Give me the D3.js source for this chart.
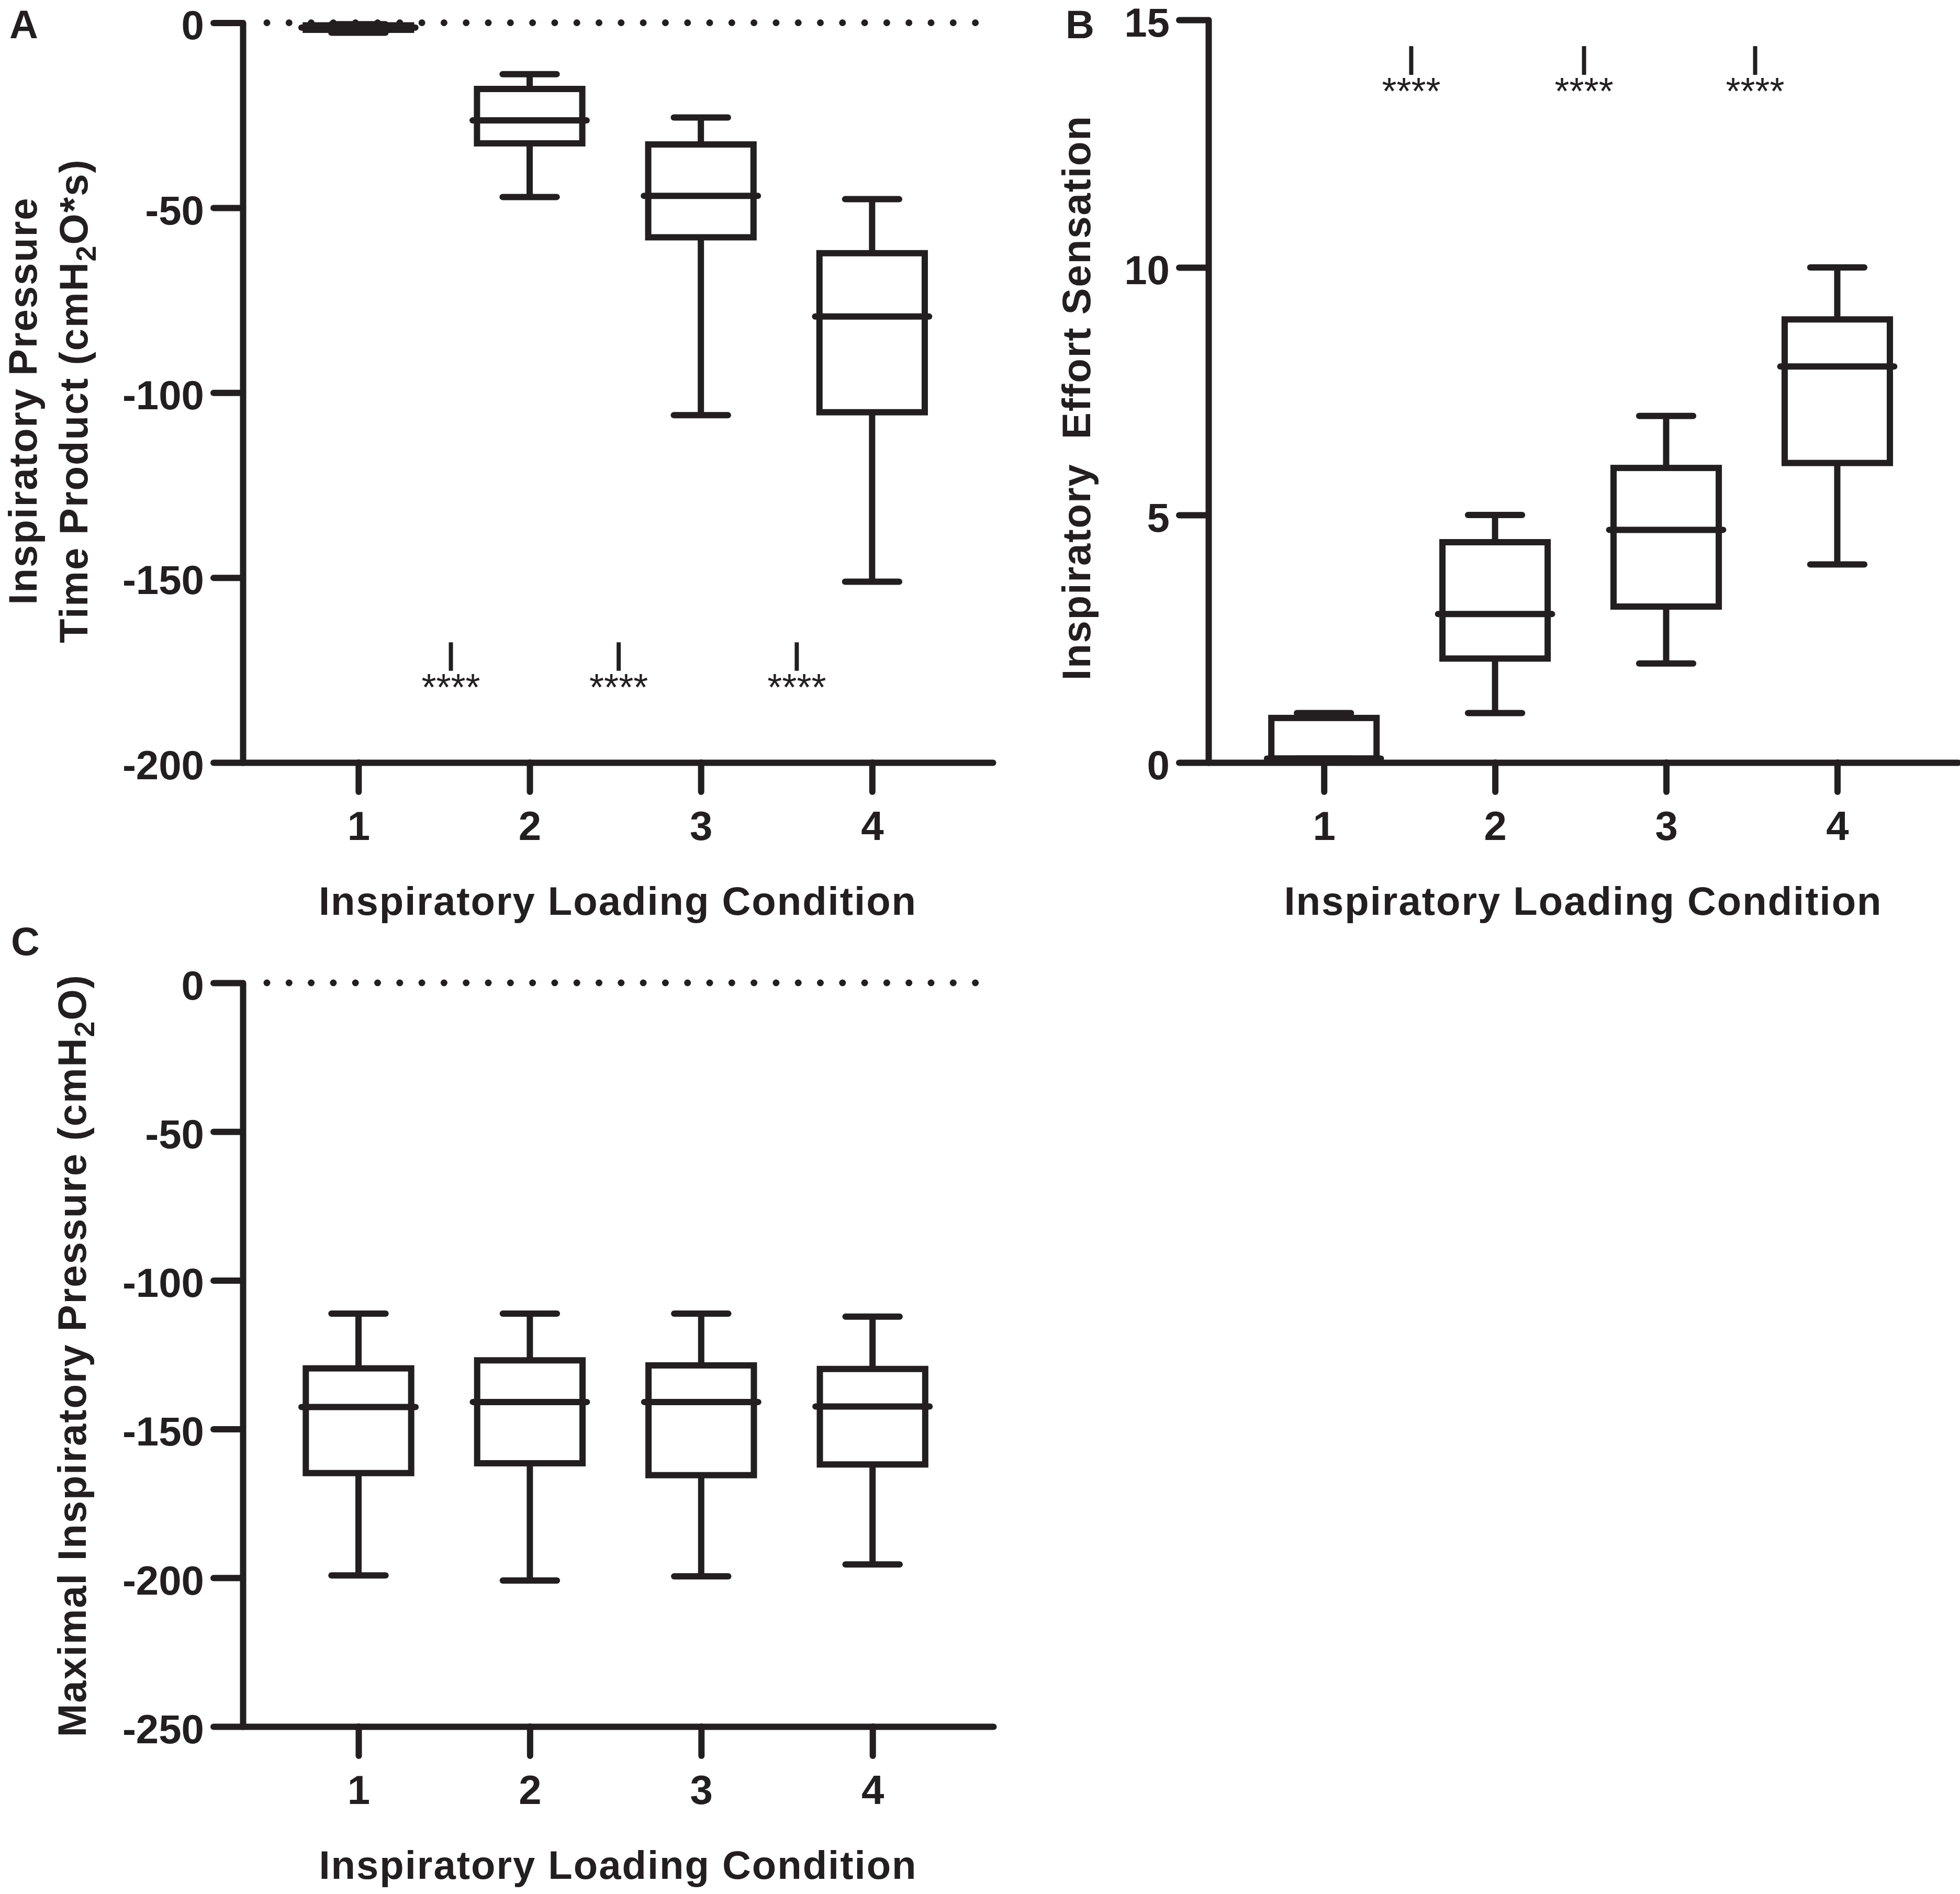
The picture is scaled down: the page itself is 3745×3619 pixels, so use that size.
<!DOCTYPE html>
<html>
<head>
<meta charset="utf-8">
<script src="https://cdn.jsdelivr.net/npm/d3@7"></script>
<style>
  html, body { margin: 0; padding: 0; background: #fff; }
  svg { display: block; font-family: "Liberation Sans", Arial, Helvetica, sans-serif; }
</style>
</head>
<body>
<div id="chart"></div>
<script>
const conditions = [1, 2, 3, 4];

// A: inspiratory pressure time product (cmH2O*s)
const ptpMin    = [-2.7, -47.1, -106.1, -151.1];
const ptpQ1     = [-1.9, -32.6, -58.0, -105.3];
const ptpMedian = [-1.3, -26.4, -46.8, -79.4];
const ptpQ3     = [-0.7, -17.9, -32.9, -62.3];
const ptpMax    = [-0.4, -13.9, -25.6, -47.7];
const ptpTicks  = [0, -50, -100, -150, -200];
const ptpSigX   = [1.54, 2.52, 3.56];
const ptpSigTop = -167.5;
const ptpSigBottom = -175.2;

// B: inspiratory effort sensation
const effortMin    = [0.08, 1.0, 2.0, 4.0];
const effortQ1     = [0.08, 2.1, 3.15, 6.05];
const effortMedian = [0.08, 3.0, 4.7, 8.0];
const effortQ3     = [0.9, 4.45, 5.95, 8.95];
const effortMax    = [1.0, 5.0, 7.0, 10.0];
const effortTicks  = [0, 5, 10, 15];
const effortSigX   = [1.51, 2.52, 3.52];
const effortSigTop = 14.47;
const effortSigBottom = 13.89;

// C: maximal inspiratory pressure (cmH2O)
const mipMin    = [-199.2, -200.9, -199.5, -195.5];
const mipQ1     = [-164.8, -161.5, -165.5, -161.9];
const mipMedian = [-142.6, -140.9, -140.9, -142.4];
const mipQ3     = [-129.6, -126.9, -128.6, -129.8];
const mipMax    = [-111.2, -111.2, -111.2, -112.2];
const mipTicks  = [0, -50, -100, -150, -200, -250];

const sigLabel = "****";
const xTitle = "Inspiratory Loading Condition";

const ink = "#231f20";
const W = 3745, H = 3619;
const xDomain = [0.325, 4.705];

const svg = d3.select("#chart")
  .append("svg")
  .attr("width", W)
  .attr("height", H)
  .attr("viewBox", `0 0 ${W} ${H}`);

const panels = [
  {
    label: "A", labelX: 18, labelY: 73,
    left: 464, right: 1897, top: 43.5, bottom: 1457,
    yDomain: [-200, 0], yTicks: ptpTicks,
    min: ptpMin, q1: ptpQ1, med: ptpMedian, q3: ptpQ3, max: ptpMax,
    sig: { x: ptpSigX, top: ptpSigTop, bottom: ptpSigBottom },
    zeroLine: true,
    titleY: 766,
    yTitle: [
      { x: 70, parts: [["Inspiratory Pressure"]] },
      { x: 167, parts: [["Time Product (cmH"], ["2", true], ["O*s)"]] }
    ]
  },
  {
    label: "B", labelX: 2036, labelY: 73,
    left: 2309, right: 3741, top: 38, bottom: 1457,
    yDomain: [0, 15], yTicks: effortTicks,
    min: effortMin, q1: effortQ1, med: effortMedian, q3: effortQ3, max: effortMax,
    sig: { x: effortSigX, top: effortSigTop, bottom: effortSigBottom },
    zeroLine: false,
    titleY: 760,
    yTitle: [
      { x: 2083, parts: [["Inspiratory  Effort Sensation"]] }
    ]
  },
  {
    label: "C", labelX: 21, labelY: 1825,
    left: 464, right: 1898, top: 1878, bottom: 3299,
    yDomain: [-250, 0], yTicks: mipTicks,
    min: mipMin, q1: mipQ1, med: mipMedian, q3: mipQ3, max: mipMax,
    sig: null,
    zeroLine: true,
    titleY: 2590,
    yTitle: [
      { x: 164, parts: [["Maximal Inspiratory Pressure (cmH"], ["2", true], ["O)"]] }
    ]
  }
];

panels.forEach(drawPanel);

function drawPanel(p) {
  const g = svg.append("g");
  const x = d3.scaleLinear().domain(xDomain).range([p.left, p.right]);
  const y = d3.scaleLinear().domain(p.yDomain).range([p.bottom, p.top]);

  const boxHalf = 0.3075, medHalf = 0.333, capHalf = 0.158;

  if (p.zeroLine) {
    g.append("line")
      .attr("x1", p.left + 46).attr("x2", p.right)
      .attr("y1", y(0)).attr("y2", y(0))
      .attr("stroke", ink).attr("stroke-width", 13)
      .attr("stroke-linecap", "round")
      .attr("stroke-dasharray", "0 42.3");
  }

  // axes (plain hyphen for negatives, as in the original)
  const plain = d => String(d);
  const yAxis = g.append("g")
    .attr("transform", `translate(${p.left},0)`)
    .call(d3.axisLeft(y).tickValues(p.yTicks).tickSize(56).tickSizeOuter(0).tickPadding(18).tickFormat(plain));
  const xAxis = g.append("g")
    .attr("transform", `translate(0,${p.bottom})`)
    .call(d3.axisBottom(x).tickValues(conditions).tickSize(56).tickSizeOuter(0).tickPadding(37).tickFormat(plain));

  [yAxis, xAxis].forEach(a => {
    a.selectAll("path, line")
      .attr("stroke", ink)
      .attr("stroke-width", 12)
      .attr("stroke-linecap", "round");
    a.selectAll("text")
      .attr("fill", ink)
      .attr("font-size", 78)
      .attr("font-weight", "bold")
      .attr("font-family", "'Liberation Sans', Arial, sans-serif");
  });
  yAxis.selectAll("text").attr("dy", "0.4em");

  // boxes
  const rows = conditions.map((c, i) => ({
    c, min: p.min[i], q1: p.q1[i], med: p.med[i], q3: p.q3[i], max: p.max[i]
  }));

  const boxes = g.selectAll(".box")
    .data(rows)
    .enter()
    .append("g")
    .attr("class", "box");

  boxes.append("line")
    .attr("x1", d => x(d.c)).attr("x2", d => x(d.c))
    .attr("y1", d => y(d.max)).attr("y2", d => y(d.q3))
    .attr("stroke", ink).attr("stroke-width", 12);

  boxes.append("line")
    .attr("x1", d => x(d.c)).attr("x2", d => x(d.c))
    .attr("y1", d => y(d.q1)).attr("y2", d => y(d.min))
    .attr("stroke", ink).attr("stroke-width", 12);

  boxes.selectAll(".cap")
    .data(d => [{ c: d.c, v: d.max }, { c: d.c, v: d.min }])
    .enter()
    .append("line")
    .attr("class", "cap")
    .attr("x1", d => x(d.c - capHalf)).attr("x2", d => x(d.c + capHalf))
    .attr("y1", d => y(d.v)).attr("y2", d => y(d.v))
    .attr("stroke", ink).attr("stroke-width", 12)
    .attr("stroke-linecap", "round");

  boxes.append("rect")
    .attr("x", d => x(d.c - boxHalf))
    .attr("width", d => x(d.c + boxHalf) - x(d.c - boxHalf))
    .attr("y", d => y(d.q3))
    .attr("height", d => y(d.q1) - y(d.q3))
    .attr("fill", "none")
    .attr("stroke", ink).attr("stroke-width", 12);

  boxes.append("line")
    .attr("x1", d => x(d.c - medHalf)).attr("x2", d => x(d.c + medHalf))
    .attr("y1", d => y(d.med)).attr("y2", d => y(d.med))
    .attr("stroke", ink).attr("stroke-width", 12)
    .attr("stroke-linecap", "round");

  // significance marks
  if (p.sig) {
    const sig = g.selectAll(".sig")
      .data(p.sig.x)
      .enter()
      .append("g")
      .attr("class", "sig");
    sig.append("line")
      .attr("x1", d => x(d)).attr("x2", d => x(d))
      .attr("y1", y(p.sig.top)).attr("y2", y(p.sig.bottom))
      .attr("stroke", ink).attr("stroke-width", 8);
    sig.append("text")
      .attr("x", d => x(d))
      .attr("y", y(p.sig.bottom) + 56)
      .attr("text-anchor", "middle")
      .attr("font-size", 72)
      .attr("fill", ink)
      .text(sigLabel);
  }

  // x title
  g.append("text")
    .attr("x", (p.left + p.right) / 2)
    .attr("y", p.bottom + 291)
    .attr("text-anchor", "middle")
    .attr("font-size", 76)
    .attr("font-weight", "bold")
    .attr("letter-spacing", 2)
    .attr("fill", ink)
    .text(xTitle);

  // y title (rotated)
  p.yTitle.forEach(line => {
    const t = g.append("text")
      .attr("transform", `translate(${line.x},${p.titleY}) rotate(-90)`)
      .attr("text-anchor", "middle")
      .attr("font-size", 76)
      .attr("font-weight", "bold")
      .attr("letter-spacing", 2)
      .attr("fill", ink)
      .style("white-space", "pre");
    line.parts.forEach(([s, sub]) => {
      const ts = t.append("tspan").text(s);
      if (sub) ts.attr("font-size", 54).attr("dy", 16);
      else if (t.selectAll("tspan").size() > 1) ts.attr("dy", -16);
    });
  });

  // panel letter
  g.append("text")
    .attr("x", p.labelX)
    .attr("y", p.labelY)
    .attr("font-size", 76)
    .attr("font-weight", "bold")
    .attr("fill", ink)
    .text(p.label);
}
</script>
</body>
</html>
